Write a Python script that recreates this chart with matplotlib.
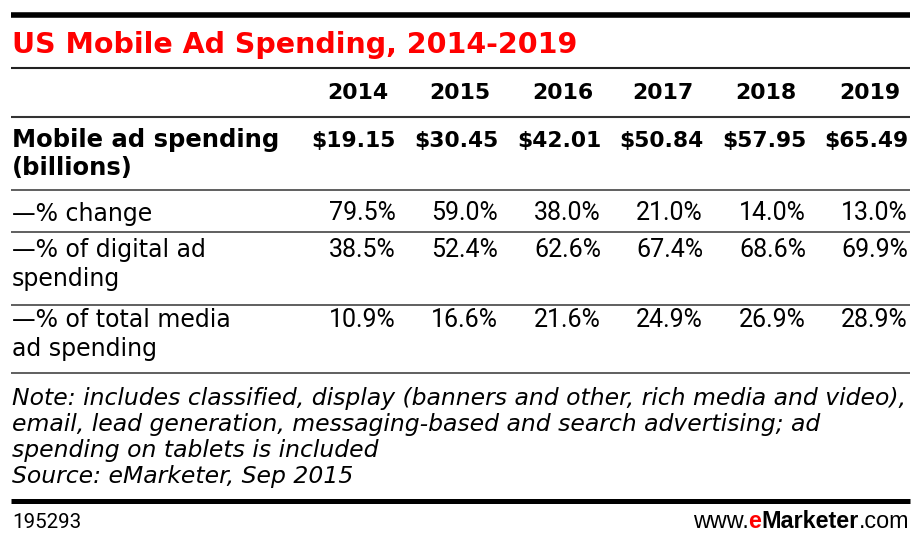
import matplotlib
matplotlib.use("Agg")
import matplotlib.pyplot as plt

title = "US Mobile Ad Spending, 2014-2019"
years = ["2014", "2015", "2016", "2017", "2018", "2019"]
spending = [19.15, 30.45, 42.01, 50.84, 57.95, 65.49]   # billions
pct_change = [79.5, 59.0, 38.0, 21.0, 14.0, 13.0]
pct_digital = [38.5, 52.4, 62.6, 67.4, 68.6, 69.9]
pct_total = [10.9, 16.6, 21.6, 24.9, 26.9, 28.9]
row_labels = ["Mobile ad spending\n(billions)", "\u2014% change",
              "\u2014% of digital ad\nspending", "\u2014% of total media\nad spending"]
notes = ["Note: includes classified, display (banners and other, rich media and video),",
         "email, lead generation, messaging-based and search advertising; ad",
         "spending on tablets is included",
         "Source: eMarketer, Sep 2015"]
chart_id = "195293"

RED = "#ff0000"
TXT = "DejaVu Sans"   # labels, notes, bold text
NUM = "Roboto"        # regular figures (narrower digits)

fig = plt.figure(figsize=(9.22, 5.44), dpi=100)
ax = fig.add_axes([0, 0, 1, 1])
ax.set_xlim(0, 922)
ax.set_ylim(544, 0)
ax.axis("off")

L, R = 11, 910

def hline(y, lw, color):
    ax.plot([L, R], [y, y], color=color, lw=lw, solid_capstyle="butt")

def label(x, y, s, **kw):
    # one text per line so each baseline sits where it should
    for i, part in enumerate(s.split("\n")):
        ax.text(x, y + i * 29, part, ha="left", va="baseline", **kw)

hline(14.5, 4.0, "black")
hline(67.7, 1.5, "#222222")
hline(116.5, 1.5, "#333333")
for y in [190, 232, 305, 373]:
    hline(y, 1.2, "#444444")
hline(500.5, 3.6, "black")

ax.text(12, 53, title, color=RED, fontsize=20.5, fontweight="bold",
        family=TXT, va="baseline", ha="left")

# column right edges
val_x = [396, 498, 601, 703, 806, 908]
year_x = [388, 490, 593, 693, 796, 900]

for x, yr in zip(year_x, years):
    ax.text(x, 99, yr, fontsize=15.8, fontweight="bold", family=TXT,
            ha="right", va="baseline")

label(12, 146.5, row_labels[0], fontsize=17.5, fontweight="bold", family=TXT)
for x, v in zip(val_x, spending):
    ax.text(x, 146.5, "$%.2f" % v, fontsize=15.7, fontweight="bold", family=TXT,
            ha="right", va="baseline")

rows = [(row_labels[1], pct_change, 220.5),
        (row_labels[2], pct_digital, 257),
        (row_labels[3], pct_total, 327)]
for lab, vals, yb in rows:
    label(12, yb, lab, fontsize=17, family=TXT)
    for x, v in zip(val_x, vals):
        ax.text(x, yb, "%.1f%%" % v, fontsize=18, family=NUM,
                ha="right", va="baseline")

for i, line in enumerate(notes):
    ax.text(12, 405 + i * 26, line, fontsize=16.9, style="italic", family=TXT,
            ha="left", va="baseline")

ax.text(12, 528, chart_id, fontsize=14.8, family=NUM, ha="left", va="baseline")

# www.eMarketer.com logo text, drawn right to left
fig.canvas.draw()
r = fig.canvas.get_renderer()
yb = fig.bbox.height - 528
x = 909 / 922 * fig.bbox.width
for part, w, c in [(".com", "normal", "black"), ("Marketer", "bold", "black"),
                   ("e", "bold", RED), ("www.", "normal", "black")]:
    t = ax.text(x, yb, part, fontsize=16.8, fontweight=w, color=c,
                family="Liberation Sans", ha="right", va="baseline", transform=None)
    x = t.get_window_extent(r).x0

fig.savefig("out.png", dpi=100)
